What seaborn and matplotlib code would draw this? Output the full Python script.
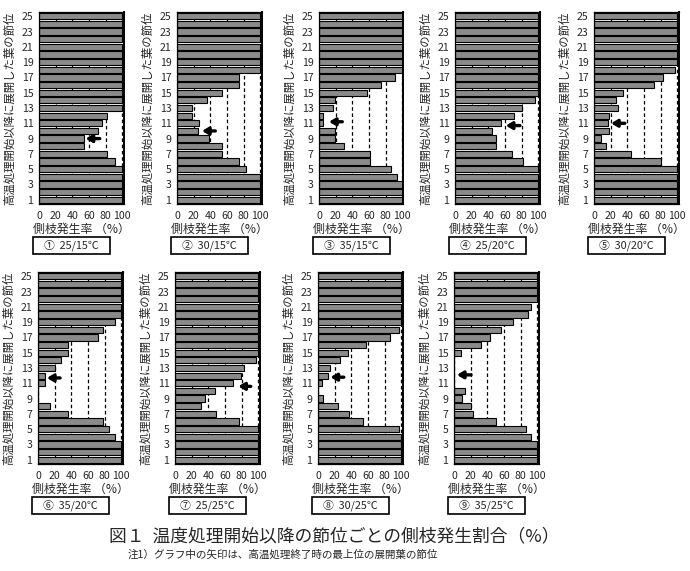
import numpy as np
import pandas as pd
import matplotlib
matplotlib.use("Agg")
import matplotlib.pyplot as plt
from matplotlib.patches import Rectangle
import seaborn as sns

sns.set_style("white")
plt.rcParams['font.family'] = ['Noto Sans CJK JP', 'DejaVu Sans']
plt.rcParams['lines.scale_dashes'] = False

# ---------------- data ----------------
nodes = list(range(1, 26))
panel_labels = ["①  25/15℃", "②  30/15℃", "③  35/15℃", "④  25/20℃", "⑤  30/20℃",
                "⑥  35/20℃", "⑦  25/25℃", "⑧  30/25℃", "⑨  35/25℃"]

# side-shoot rate (%) by node 1..25
rate_25_15 = [100, 100, 100, 100, 100, 91, 82, 54, 54, 71, 76, 82, 100,
              100, 100, 100, 100, 100, 100, 100, 100, 100, 100, 100, 100]
rate_30_15 = [100, 100, 100, 100, 83, 74, 54, 54, 38, 25, 27, 18, 18,
              36, 54, 74, 74, 100, 100, 100, 100, 100, 100, 100, 100]
rate_35_15 = [100, 100, 100, 94, 87, 61, 61, 30, 19, 19, 4.5, 4.5, 17,
              19, 58, 74, 91, 100, 100, 100, 100, 100, 100, 100, 100]
rate_25_20 = [100, 100, 100, 100, 100, 82, 69, 49, 49, 44, 55, 71, 81,
              96, 100, 100, 100, 100, 100, 100, 100, 100, 100, 100, 100]
rate_30_20 = [100, 100, 100, 100, 100, 80, 45, 15, 9, 18.5, 17, 18.5, 29,
              27, 35, 72, 83, 97.5, 100, 100, 100, 100, 100, 100, 100]
rate_35_20 = [100, 100, 100, 93, 85, 78, 36, 15, 0, 0, 8, 8, 21,
              28, 36, 36, 72, 78, 93, 100, 100, 100, 100, 100, 100]
rate_25_25 = [100, 100, 100, 100, 100, 76.5, 49, 31, 36, 48, 70, 79, 82.5,
              97, 100, 100, 100, 100, 100, 100, 100, 100, 100, 100, 100]
rate_30_25 = [100, 100, 100, 100, 97.5, 53.5, 37, 23.5, 5.5, 0, 5, 11.5, 14,
              27, 36, 58, 87, 97.5, 100, 100, 100, 100, 100, 100, 100]
rate_35_25 = [100, 100, 100, 93, 86, 50, 22.5, 20, 9.5, 13, 0, 0, 0,
              0, 8, 33, 43, 56, 71, 89, 93, 100, 100, 100, 100]
rates = [rate_25_15, rate_30_15, rate_35_15, rate_25_20, rate_30_20,
         rate_35_20, rate_25_25, rate_30_25, rate_35_25]

# arrows: node of uppermost unfolded leaf at end of heat treatment, arrow head / tail x
arrow_node = [9, 10, 11.2, 10.7, 11, 11.7, 10.6, 11.8, 12.1]
arrow_head = [56, 30, 12, 61, 20.5, 10.7, 76, 15, 3.5]
arrow_tail = [73, 46, 28, 78, 37, 26.5, 91, 31, 20.5]

x_ticks = [0, 20, 40, 60, 80, 100]
y_ticks = list(range(1, 26, 2))

# ---------------- layout ----------------
W, H = 690, 571
fig = plt.figure(figsize=(W / 100, H / 100), dpi=100)
fig.patch.set_facecolor("white")

lefts = [39, 177, 319, 455, 594, 38, 175, 318, 454]
tops = [12] * 5 + [272] * 4
ax_w, ax_h = 84.5, 192

gray = "#8a8a8a"
for i in range(9):
    ax = fig.add_axes([lefts[i] / W, 1 - (tops[i] + ax_h) / H, ax_w / W, ax_h / H])
    df = pd.DataFrame({"node": nodes, "rate": rates[i]})
    sns.barplot(data=df, x="rate", y="node", orient="h", native_scale=True,
                color=gray, saturation=1, edgecolor="black", linewidth=0.8,
                width=0.82, ax=ax)
    ax.set_xlim(0, 101.5)
    ax.set_ylim(0.45, 25.55)
    ax.set_axisbelow(True)
    ax.grid(axis="x", color="black", linestyle=(0, (2.6, 1.9)), linewidth=0.9)
    ax.grid(axis="y", visible=False)
    ax.set_xticks(x_ticks)
    ax.set_yticks(y_ticks)
    ax.tick_params(axis="both", length=0, labelsize=7.6)
    ax.tick_params(axis="y", pad=4)
    ax.tick_params(axis="x", pad=5)
    for s in ["left", "bottom", "top"]:
        ax.spines[s].set_color("black")
        ax.spines[s].set_linewidth(0.9)
    ax.spines["right"].set_color("black")
    ax.spines["right"].set_linewidth(1.4)

    ax.set_ylabel("高温処理開始以降に展開した葉の節位", fontsize=8.2)
    ax.yaxis.set_label_coords(-0.29, 0.5)
    ax.set_xlabel("側枝発生率 （%）", fontsize=8.6)
    ax.xaxis.set_label_coords(0.5, -0.1)

    ax.annotate("", xy=(arrow_head[i], arrow_node[i]), xytext=(arrow_tail[i], arrow_node[i]),
                arrowprops=dict(arrowstyle="-|>,head_length=0.5,head_width=0.3",
                                color="black", lw=2.4, shrinkA=0, shrinkB=0,
                                mutation_scale=7))

    # boxed condition label
    bx0, bx1 = -0.07, 0.84
    by0, by1 = -0.262, -0.172
    ax.add_patch(Rectangle((bx0, by0), bx1 - bx0, by1 - by0, transform=ax.transAxes,
                           facecolor="white", edgecolor="black", linewidth=1.2,
                           clip_on=False))
    ax.text((bx0 + bx1) / 2, (by0 + by1) / 2, panel_labels[i], transform=ax.transAxes,
            ha="center", va="center", fontsize=7.8)

fig.text(334 / W, 1 - 536 / H, "図１  温度処理開始以降の節位ごとの側枝発生割合（%）",
         ha="center", va="center", fontsize=12.8)
fig.text(128 / W, 1 - 555 / H, "注1）グラフ中の矢印は、高温処理終了時の最上位の展開葉の節位",
         ha="left", va="center", fontsize=7.6)

fig.savefig("out.png", dpi=100, facecolor="white")
